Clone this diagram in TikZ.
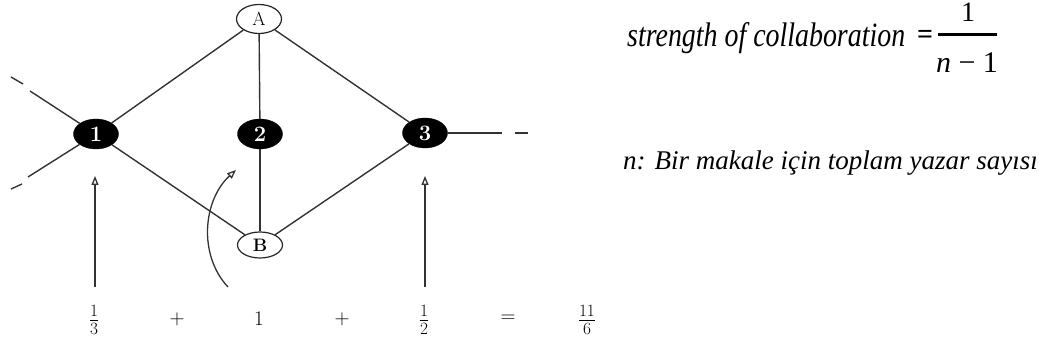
\documentclass[tikz,border=0pt]{standalone}
\usepackage{fontspec}
\setmainfont{Liberation Serif}
\newfontfamily\lmfont{Latin Modern Roman}
\usetikzlibrary{shapes.geometric,arrows.meta}
\begin{document}
\begin{tikzpicture}[x=1pt,y=-1pt,
  edge/.style={draw=black!80,line width=1.4pt},
  wnode/.style={ellipse,draw=black!85,line width=1.2pt,fill=white,inner sep=0pt,minimum width=45pt,font=\lmfont\fontsize{19}{19}\selectfont},
  bnode/.style={ellipse,draw=black,fill=black,inner sep=0pt,minimum width=45pt,minimum height=30pt,text=white,font=\lmfont\bfseries\fontsize{22}{22}\selectfont},
  uparrow/.style={draw=black!80,line width=1.3pt,-{Triangle[open,length=9pt,width=7pt]}},
  mathlbl/.style={font=\lmfont\fontsize{20}{20}\selectfont,inner sep=0pt},
  fraclbl/.style={font=\lmfont\fontsize{25}{25}\selectfont,inner sep=0pt}
]
\clip (0,0) rectangle (1039,347);
\useasboundingbox (0,0) rectangle (1039,347);

% nodes
\node[wnode,minimum height=29pt] (A) at (259,19) {A};
\node[bnode] (n1) at (96,134) {1};
\node[bnode] (n2) at (260,134) {2};
\node[bnode] (n3) at (425,133) {3};
\node[wnode,minimum height=26pt,font=\lmfont\bfseries\fontsize{18}{18}\selectfont] (B) at (260,245) {B};

% free ends
\coordinate (lu) at (30,91);
\coordinate (lud1) at (23,84);
\coordinate (lud2) at (11,77);
\coordinate (ld) at (28,177);
\coordinate (ldd1) at (22,184);
\coordinate (ldd2) at (11,189);
\coordinate (r) at (502,133);
\coordinate (rd1) at (515,133);
\coordinate (rd2) at (528,133);

% edges
\draw[edge] (A) -- (n1);
\draw[edge] (A) -- (n2);
\draw[edge] (A) -- (n3);
\draw[edge] (n1) -- (B);
\draw[edge] (n2) -- (B);
\draw[edge] (n3) -- (B);
\draw[edge] (n1) -- (lu);
\draw[edge] (lud1) -- (lud2);
\draw[edge] (n1) -- (ld);
\draw[edge] (ldd1) -- (ldd2);
\draw[edge] (n3) -- (r);
\draw[edge] (rd1) -- (rd2);

% arrows
\coordinate (a1s) at (95,287);
\coordinate (a1e) at (95,176);
\coordinate (a3s) at (425,287);
\coordinate (a3e) at (425,176);
\coordinate (cs) at (228,287);
\coordinate (ce) at (236,170);
\draw[uparrow] (a1s) -- (a1e);
\draw[uparrow] (a3s) -- (a3e);
\draw[uparrow] (cs) .. controls (198,255) and (203,200) .. (ce);

% bottom sum
\node[fraclbl] (f1) at (94,320) {$\frac{1}{3}$};
\node[mathlbl] (p1) at (177,319) {$+$};
\node[mathlbl] (one) at (259,319) {$1$};
\node[mathlbl] (p2) at (342,319) {$+$};
\node[fraclbl] (f2) at (424,320) {$\frac{1}{2}$};
\node[mathlbl] (eq) at (508,319) {$=$};
\node[fraclbl] (f3) at (587,320) {$\frac{11}{6}$};

% formula
\node[anchor=base west,inner sep=0pt] (sc) at (627,47) {\resizebox{278pt}{24pt}{\itshape strength of collaboration}};
\node[inner sep=0pt,font=\bfseries\fontsize{28}{28}\selectfont] (eqs) at (925,37) {=};
\node[anchor=base,inner sep=0pt,font=\fontsize{28}{28}\selectfont] (num) at (968,22) {1};
\node[anchor=base,inner sep=0pt,font=\fontsize{30}{30}\selectfont] (den) at (967,73) {\textit{n} − 1};
\coordinate (bl) at (938,35);
\coordinate (br) at (997,35);
\draw[line width=3pt] (bl) -- (br);

% note
\node[anchor=base west,inner sep=0pt,font=\itshape\fontsize{27}{27}\selectfont] (note) at (623,170) {n: Bir makale için toplam yazar sayısı};
\end{tikzpicture}
\end{document}
